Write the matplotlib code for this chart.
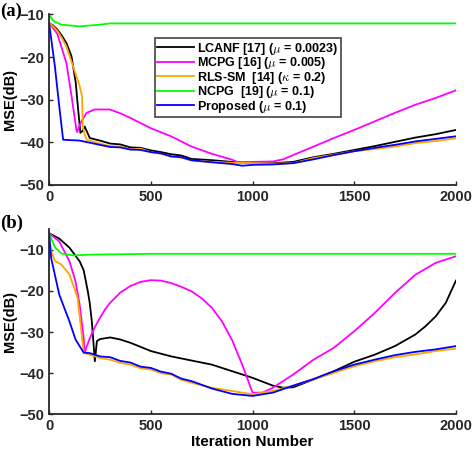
import matplotlib
matplotlib.use('Agg')
import matplotlib.pyplot as plt

plt.rcParams['font.family'] = ['Liberation Sans', 'DejaVu Sans']
plt.rcParams['font.weight'] = 'bold'
plt.rcParams['mathtext.fontset'] = 'cm'

labels = [r'LCANF [17] ($\mu$ = 0.0023)',
          r'MCPG [16] ($\mu$ = 0.005)',
          r'RLS-SM  [14] ($\kappa$ = 0.2)',
          r'NCPG  [19] ($\mu$ = 0.1)',
          r'Proposed ($\mu$ = 0.1)']
colors = ['#000000', '#ff00ff', '#ffa500', '#00ff00', '#0000ff']
xticks = [0, 500, 1000, 1500, 2000]

# ---- panel (a) ----
a_black_x = [0, 20, 40, 60, 85, 110, 131, 143, 154, 165, 175, 200, 250, 300, 350, 400, 450, 500, 550, 600, 650, 700, 800, 900, 1000, 1100, 1200, 1300, 1400, 1500, 1600, 1700, 1800, 1900, 2000]
a_black_y = [-12, -12.6, -13.5, -14.8, -16.7, -19.8, -26, -32.4, -37.8, -37.3, -36.3, -39, -39.6, -40.3, -40.5, -41.2, -41.3, -41.9, -42.3, -42.8, -43.1, -43.9, -44.2, -44.6, -44.9, -44.9, -44.6, -43.5, -42.7, -41.8, -40.9, -39.9, -38.9, -38.1, -37.1]

a_mag_x = [0, 40, 85, 110, 134, 138, 150, 160, 184, 225, 298, 350, 400, 500, 600, 700, 800, 900, 930, 1000, 1100, 1150, 1200, 1300, 1400, 1500, 1600, 1700, 1800, 1900, 2000]
a_mag_y = [-12, -14.5, -21.4, -29, -37, -37.6, -36, -35, -33.1, -32.3, -32.3, -33.2, -34.3, -36.7, -38.6, -41, -42.7, -44.1, -44.7, -44.6, -44.5, -44, -43, -41, -39, -37.1, -35.1, -33.1, -31.2, -29.6, -27.8]

a_or_x = [0, 20, 40, 60, 85, 118, 151, 162, 166, 175, 185, 250, 300, 350, 400, 450, 500, 550, 600, 650, 700, 800, 900, 1000, 1100, 1200, 1300, 1400, 1500, 1600, 1700, 1800, 1900, 2000]
a_or_y = [-12, -12.8, -13.8, -15.3, -17.5, -22.2, -26.9, -29.2, -36.3, -38.2, -39.4, -40.3, -40.9, -41.0, -41.7, -41.5, -42.3, -42.7, -43.4, -43.6, -44.3, -44.6, -44.8, -44.9, -45, -44.9, -43.7, -42.9, -42.1, -41.6, -41, -40.2, -39.7, -39.1]

a_gr_x = [0, 20, 60, 150, 250, 300, 2000]
a_gr_y = [-10, -11.5, -12.4, -12.8, -12.4, -12.1, -12.1]

a_bl_x = [0, 28, 52, 69, 150, 250, 300, 350, 400, 450, 500, 550, 600, 650, 700, 800, 900, 950, 1000, 1100, 1200, 1300, 1400, 1500, 1600, 1700, 1800, 1900, 2000]
a_bl_y = [-12, -22, -32.4, -39.4, -39.6, -40.6, -41.1, -41.2, -41.7, -41.8, -42.3, -42.6, -43.3, -43.5, -44.2, -44.7, -45.1, -45.5, -45.3, -45.2, -44.9, -44, -43, -42.1, -41.3, -40.6, -39.8, -39.2, -38.6]

# ---- panel (b) ----
b_black_x = [0, 50, 100, 150, 170, 190, 200, 210, 220, 225, 235, 250, 300, 350, 400, 450, 500, 600, 700, 800, 900, 1000, 1100, 1150, 1200, 1300, 1400, 1500, 1600, 1700, 1800, 1850, 1900, 1950, 2000]
b_black_y = [-6, -7.3, -9.5, -12.8, -15, -20, -23, -27.4, -33.8, -37.1, -32.2, -31.7, -31.3, -31.8, -32.6, -33.6, -34.6, -35.9, -36.9, -37.9, -39.5, -41.1, -43, -43.5, -43.4, -41.5, -39.5, -37.2, -35.5, -33.4, -30.6, -28.6, -26.2, -22.9, -17.5]

b_mag_x = [0, 50, 100, 130, 150, 170, 175, 185, 200, 225, 250, 275, 300, 350, 400, 450, 500, 550, 600, 650, 700, 750, 800, 850, 900, 950, 980, 1000, 1050, 1100, 1200, 1300, 1400, 1500, 1600, 1700, 1800, 1900, 2000]
b_mag_y = [-6, -8, -12.8, -17.7, -23.3, -31.4, -35, -33.5, -31.5, -28.8, -26.6, -24.5, -22.9, -20.4, -18.8, -17.8, -17.4, -17.5, -18.1, -19, -20.1, -21.8, -24.1, -27.4, -32, -38, -42, -44.7, -44.7, -43.5, -40.3, -36.7, -33.8, -29.8, -25.4, -20.5, -16.1, -13.2, -11.6]

b_or_x = [0, 10, 30, 60, 100, 140, 155, 170, 200, 250, 300, 350, 400, 450, 500, 550, 600, 650, 700, 800, 900, 1000, 1100, 1200, 1300, 1400, 1500, 1600, 1700, 1800, 1900, 2000]
b_or_y = [-7.2, -10.4, -12.8, -13.6, -16, -21.7, -28.2, -35, -35.5, -36.3, -36.7, -37.5, -37.9, -38.8, -39.1, -40.0, -40.3, -41.6, -42.3, -43.5, -44.3, -45.1, -44.3, -43, -41.5, -39.9, -38.3, -37.1, -36.1, -35.4, -34.6, -34]

b_gr_x = [0, 30, 60, 120, 200, 500, 2000]
b_gr_y = [-6, -9.5, -10.9, -11.4, -11.2, -11, -11]

b_bl_x = [0, 10, 50, 100, 130, 170, 200, 250, 300, 350, 400, 450, 500, 550, 600, 650, 700, 800, 900, 1000, 1100, 1200, 1300, 1400, 1500, 1600, 1700, 1800, 1900, 2000]
b_bl_y = [-6, -12, -20.9, -27.4, -31.8, -35, -35.1, -35.9, -36.1, -37.0, -37.4, -38.4, -38.7, -39.6, -40.1, -41.3, -41.9, -43.7, -45, -45.5, -44.7, -43, -41.4, -39.5, -37.9, -36.7, -35.6, -34.8, -34.2, -33.4]

fig = plt.figure(figsize=(4.72, 4.51), dpi=100)
ax1 = fig.add_axes([0.104, 0.590, 0.862, 0.378])
ax2 = fig.add_axes([0.104, 0.081, 0.862, 0.411])

series_a = [(a_black_x, a_black_y), (a_mag_x, a_mag_y), (a_or_x, a_or_y), (a_gr_x, a_gr_y), (a_bl_x, a_bl_y)]
series_b = [(b_black_x, b_black_y), (b_mag_x, b_mag_y), (b_or_x, b_or_y), (b_gr_x, b_gr_y), (b_bl_x, b_bl_y)]

for (x, y), c, lab in zip(series_a, colors, labels):
    ax1.plot(x, y, color=c, lw=1.3, label=lab)
for (x, y), c in zip(series_b, colors):
    ax2.plot(x, y, color=c, lw=1.3)

for ax, top in [(ax1, -10), (ax2, -5)]:
    ax.set_xlim(0, 2000)
    ax.set_ylim(-50, top)
    ax.set_xticks(xticks)
    ax.set_yticks([-50, -40, -30, -20, -10])
    ax.spines['top'].set_visible(False)
    ax.spines['right'].set_visible(False)
    for s in ['left', 'bottom']:
        ax.spines[s].set_linewidth(1.3)
        ax.spines[s].set_color('#262626')
    ax.tick_params(direction='in', length=3, width=1, labelsize=10.5, colors='#262626')
    ax.set_ylabel('MSE(dB)', fontsize=10.5, fontweight='bold')
    ax.yaxis.set_label_coords(-0.078, 0.5)

ax2.set_xlabel('Iteration Number', fontsize=11, fontweight='bold', labelpad=1)

leg = ax1.legend(loc='upper left', bbox_to_anchor=(0.26, 0.86), fontsize=9.0, frameon=True,
                 fancybox=False, handlelength=2.9, handletextpad=0.3, borderpad=0.2,
                 labelspacing=-0.12, borderaxespad=0)
leg.get_frame().set_edgecolor('#262626')
leg.get_frame().set_linewidth(1.3)

fig.text(0.0, 0.975, '(a)', fontsize=13.5, fontweight='bold', family='Liberation Serif', va='center')
fig.text(0.0, 0.505, '(b)', fontsize=13.5, fontweight='bold', family='Liberation Serif', va='center')

fig.savefig('out.png', dpi=100)
